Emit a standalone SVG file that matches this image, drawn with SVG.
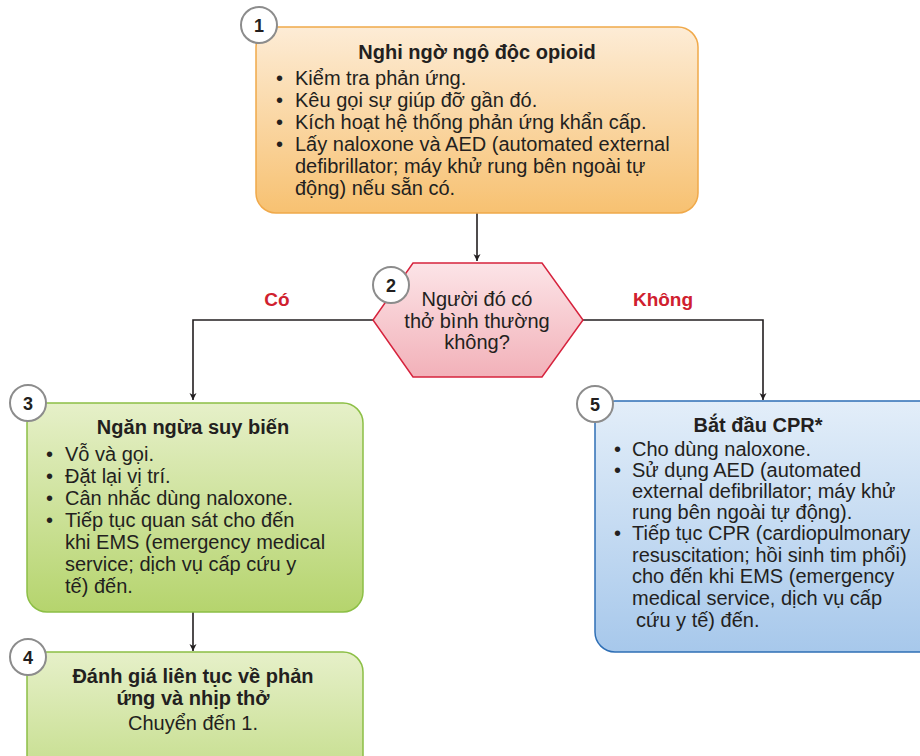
<svg xmlns="http://www.w3.org/2000/svg" width="920" height="756" viewBox="0 0 920 756">
<defs>
<linearGradient id="gOrange" x1="0" y1="0" x2="0" y2="1"><stop offset="0" stop-color="#fdecd6"/><stop offset="1" stop-color="#f7c171"/></linearGradient>
<linearGradient id="gPink" x1="0" y1="0" x2="0" y2="1"><stop offset="0" stop-color="#fce4e7"/><stop offset="1" stop-color="#f2b1b9"/></linearGradient>
<linearGradient id="gGreen" x1="0" y1="0" x2="0" y2="1"><stop offset="0" stop-color="#e6f0c9"/><stop offset="1" stop-color="#b5d46d"/></linearGradient>
<linearGradient id="gGreen4" x1="0" y1="0" x2="0" y2="1"><stop offset="0" stop-color="#e6f0c9"/><stop offset="1" stop-color="#c4dd8a"/></linearGradient>
<linearGradient id="gBlue" x1="0" y1="0" x2="0" y2="1"><stop offset="0" stop-color="#e3eef9"/><stop offset="1" stop-color="#a7c8eb"/></linearGradient>
<marker id="arr" viewBox="0 0 10 10" refX="10" refY="5" markerWidth="7" markerHeight="9" markerUnits="userSpaceOnUse" orient="auto">
<path d="M0,0 L10,5 L0,10 L3,5 Z" fill="#231f20"/>
</marker>
</defs>
<style>
text{font-family:"Liberation Sans",Arial,sans-serif;fill:#231f20;font-size:20px}
.t{font-weight:bold;font-size:20px;text-anchor:middle}
.c{text-anchor:middle}
.num{font-weight:bold;font-size:18px;text-anchor:middle}
.lab{font-weight:bold;font-size:19px;fill:#d0202e;text-anchor:middle}
.circ{fill:#fff;stroke:#8c8c8c;stroke-width:2}
.conn{fill:none;stroke:#231f20;stroke-width:1.6}
</style>

<g id="connectors">
<path class="conn" d="M477,213 V261" marker-end="url(#arr)"/>
<path class="conn" d="M373,320 H193 V400" marker-end="url(#arr)"/>
<path class="conn" d="M583,320 H763 V400" marker-end="url(#arr)"/>
<path class="conn" d="M193,612 V651" marker-end="url(#arr)"/>
<text class="lab" x="277" y="306">Có</text>
<text class="lab" x="663" y="306">Không</text>
</g>

<g id="node1">
<rect x="256" y="27" width="442" height="186" rx="20" fill="url(#gOrange)" stroke="#f0a94a" stroke-width="1.5"/>
<circle class="circ" cx="259" cy="25" r="18"/>
<text class="num" x="259" y="31.5">1</text>
<text class="t" x="477" y="59">Nghi ngờ ngộ độc opioid</text>
<text x="276" y="85">•</text><text x="295" y="85">Kiểm tra phản ứng.</text>
<text x="276" y="107">•</text><text x="295" y="107">Kêu gọi sự giúp đỡ gần đó.</text>
<text x="276" y="129">•</text><text x="295" y="129">Kích hoạt hệ thống phản ứng khẩn cấp.</text>
<text x="276" y="151">•</text><text x="295" y="151">Lấy naloxone và AED (automated external</text>
<text x="295" y="173">defibrillator; máy khử rung bên ngoài tự</text>
<text x="295" y="195">động) nếu sẵn có.</text>
</g>

<g id="node2">
<polygon points="413,263 542,263 583,320 542,377 413,377 373,320" fill="url(#gPink)" stroke="#d6233d" stroke-width="1.5"/>
<circle class="circ" cx="391" cy="285" r="18"/>
<text class="num" x="391" y="291.5">2</text>
<text class="c" x="477" y="306">Người đó có</text>
<text class="c" x="477" y="328">thở bình thường</text>
<text class="c" x="477" y="349">không?</text>
</g>

<g id="node3">
<rect x="27" y="403" width="336" height="209" rx="20" fill="url(#gGreen)" stroke="#8cbf45" stroke-width="1.5"/>
<circle class="circ" cx="28" cy="403" r="18"/>
<text class="num" x="28" y="409.5">3</text>
<text class="t" x="193" y="434">Ngăn ngừa suy biến</text>
<text x="46" y="461">•</text><text x="65" y="461">Vỗ và gọi.</text>
<text x="46" y="483">•</text><text x="65" y="483">Đặt lại vị trí.</text>
<text x="46" y="505">•</text><text x="65" y="505">Cân nhắc dùng naloxone.</text>
<text x="46" y="527">•</text><text x="65" y="527">Tiếp tục quan sát cho đến</text>
<text x="65" y="549">khi EMS (emergency medical</text>
<text x="65" y="571">service; dịch vụ cấp cứu y</text>
<text x="65" y="593">tế) đến.</text>
</g>

<g id="node4">
<rect x="27" y="652" width="336" height="130" rx="20" fill="url(#gGreen4)" stroke="#8cbf45" stroke-width="1.5"/>
<circle class="circ" cx="28" cy="657" r="18"/>
<text class="num" x="28" y="663.5">4</text>
<text class="t" x="193" y="683">Đánh giá liên tục về phản</text>
<text class="t" x="193" y="705">ứng và nhịp thở</text>
<text class="c" x="193" y="730">Chuyển đến 1.</text>
</g>

<g id="node5">
<rect x="595" y="401" width="345" height="251" rx="20" fill="url(#gBlue)" stroke="#2f6fb5" stroke-width="1.5"/>
<circle class="circ" cx="595" cy="404" r="18"/>
<text class="num" x="595" y="410.5">5</text>
<text class="t" x="758" y="432">Bắt đầu CPR*</text>
<text x="614" y="456">•</text><text x="632" y="456">Cho dùng naloxone.</text>
<text x="614" y="477">•</text><text x="632" y="477">Sử dụng AED (automated</text>
<text x="632" y="498">external defibrillator; máy khử</text>
<text x="632" y="519">rung bên ngoài tự động).</text>
<text x="614" y="540">•</text><text x="632" y="540">Tiếp tục CPR (cardiopulmonary</text>
<text x="632" y="562">resuscitation; hồi sinh tim phổi)</text>
<text x="632" y="583">cho đến khi EMS (emergency</text>
<text x="632" y="605">medical service, dịch vụ cấp</text>
<text x="636" y="627">cứu y tế) đến.</text>
</g>
</svg>
